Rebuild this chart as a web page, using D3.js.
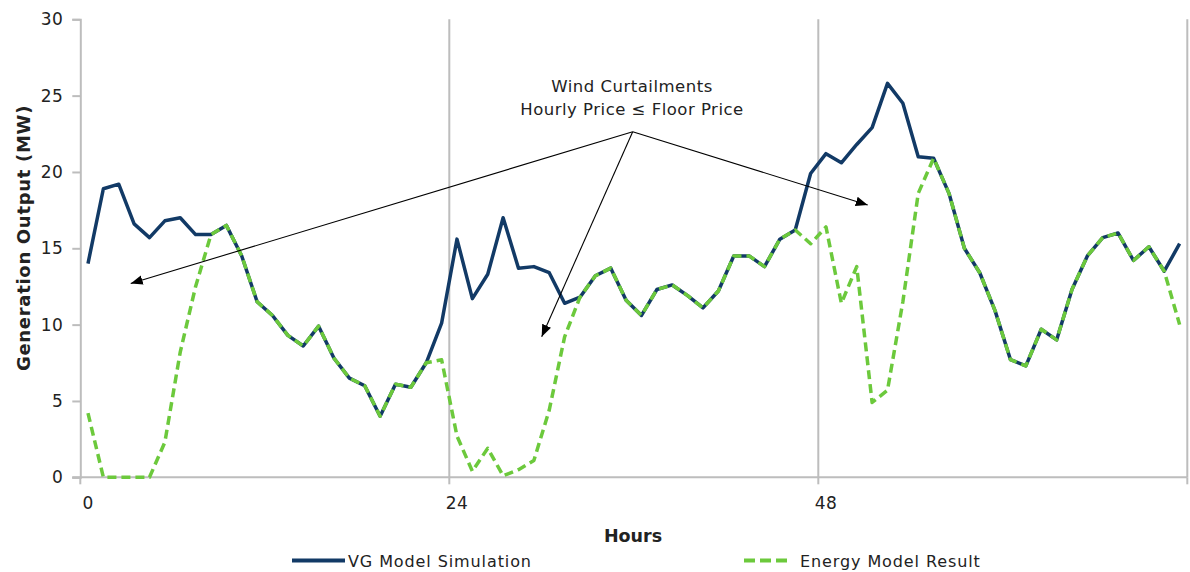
<!DOCTYPE html>
<html>
<head>
<meta charset="utf-8">
<script src="https://cdn.jsdelivr.net/npm/d3@7/dist/d3.min.js"></script>
<style>
  body { margin: 0; background: #fff; }
  svg { display: block; }
  text { font-family: "DejaVu Sans", Verdana, sans-serif; fill: #222; }
</style>
</head>
<body>
<svg id="chart" width="1190" height="572"></svg>
<script>
// ---- data ----
const hours = [0,1,2,3,4,5,6,7,8,9,10,11,12,13,14,15,16,17,18,19,20,21,22,23,
  24,25,26,27,28,29,30,31,32,33,34,35,36,37,38,39,40,41,42,43,44,45,46,47,
  48,49,50,51,52,53,54,55,56,57,58,59,60,61,62,63,64,65,66,67,68,69,70,71];
const hourLabels = [0, 24, 48];
const vgModel = [14.0,18.9,19.2,16.6,15.7,16.8,17.0,15.9,15.9,16.5,
  14.5,11.5,10.6,9.3,8.6,9.9,7.8,6.5,6.0,4.0,
  6.1,5.9,7.5,10.1,15.6,11.7,13.3,17.0,13.7,13.8,
  13.4,11.4,11.8,13.2,13.7,11.6,10.6,12.3,12.6,11.9,
  11.1,12.2,14.5,14.5,13.8,15.6,16.2,19.9,21.2,20.6,
  21.8,22.9,25.8,24.5,21.0,20.9,18.6,15.0,13.4,10.9,
  7.7,7.3,9.7,9.0,12.3,14.5,15.7,16.0,14.2,15.1,
  13.5,15.3];
const energyModel = [4.2,0,0,0,0,2.3,8.2,12.5,15.9,16.5,
  14.5,11.5,10.6,9.3,8.6,9.9,7.8,6.5,6.0,4.0,
  6.1,5.9,7.5,7.7,2.7,0.4,1.9,0.1,0.5,1.1,
  4.4,9.2,11.8,13.2,13.7,11.6,10.6,12.3,12.6,11.9,
  11.1,12.2,14.5,14.5,13.8,15.6,16.2,15.3,16.4,11.4,
  13.8,4.9,5.7,11.5,18.6,20.9,18.6,15.0,13.4,10.9,
  7.7,7.3,9.7,9.0,12.3,14.5,15.7,16.0,14.2,15.1,
  13.5,10.0];
const yTicks = [0,5,10,15,20,25,30];
const seriesNames = ["VG Model Simulation", "Energy Model Result"];
const annotationLines = ["Wind Curtailments", "Hourly Price \u2264 Floor Price"];

// ---- layout ----
const svg = d3.select("#chart");
const pLeft = 80.3, pRight = 1187.3, pTop = 19.3, pBottom = 477.3;
const blue = "#123a66", green = "#6cc93c", grid = "#bdbdbd";

const x = d3.scaleBand().domain(hours).range([pLeft, pRight]).padding(0);
const bw = x.bandwidth();
const cx = h => x(h) + bw / 2;
const y = d3.scaleLinear().domain([0, 30]).range([pBottom, pTop]);

// vertical gridlines at category boundaries every 24 hours
const boundaries = [24, 48];
svg.append("g").selectAll("line").data(boundaries).join("line")
  .attr("x1", d => x(d)).attr("x2", d => x(d))
  .attr("y1", pTop).attr("y2", pBottom)
  .attr("stroke", grid).attr("stroke-width", 2);
svg.append("line").attr("x1", pRight).attr("x2", pRight)
  .attr("y1", pTop).attr("y2", pBottom)
  .attr("stroke", grid).attr("stroke-width", 2);

// y axis
const yAxis = svg.append("g").attr("transform", `translate(${pLeft},0)`)
  .call(d3.axisLeft(y).tickValues(yTicks).tickSize(8).tickPadding(9));
yAxis.select(".domain").attr("stroke", grid).attr("stroke-width", 2);
yAxis.selectAll(".tick line").attr("stroke", grid).attr("stroke-width", 2);
yAxis.selectAll(".tick text").style("font-size", "17px").attr("fill", "#333")
  .style("letter-spacing", "0.4px")
  .style("font-family", "DejaVu Sans, sans-serif");

// x axis
const xAxis = svg.append("g").attr("transform", `translate(0,${pBottom})`)
  .call(d3.axisBottom(x).tickValues(hourLabels).tickSize(0).tickPadding(20));
xAxis.select(".domain").remove();
xAxis.selectAll(".tick text").style("font-size", "17px").attr("fill", "#333")
  .style("letter-spacing", "0.4px")
  .style("font-family", "DejaVu Sans, sans-serif");
svg.append("line").attr("x1", pLeft - 8).attr("x2", pRight)
  .attr("y1", pBottom).attr("y2", pBottom)
  .attr("stroke", grid).attr("stroke-width", 2);
svg.append("g").selectAll("line").data([0, 24, 48]).join("line")
  .attr("x1", d => x(d)).attr("x2", d => x(d))
  .attr("y1", pBottom).attr("y2", pBottom + 7)
  .attr("stroke", grid).attr("stroke-width", 2);
svg.append("line").attr("x1", pRight).attr("x2", pRight)
  .attr("y1", pBottom).attr("y2", pBottom + 7)
  .attr("stroke", grid).attr("stroke-width", 2);

// axis titles
svg.append("text").attr("x", 633).attr("y", 542)
  .attr("text-anchor", "middle").style("font-size", "17.5px").style("font-weight", "bold")
  .text("Hours");
svg.append("text").attr("transform", `translate(30,238) rotate(-90)`)
  .attr("text-anchor", "middle").style("font-size", "18px").style("font-weight", "bold")
  .style("letter-spacing", "0.7px")
  .text("Generation Output (MW)");

// lines
const line = d3.line().x((d, i) => cx(hours[i])).y(d => y(d));
svg.append("path").datum(vgModel).attr("d", line)
  .attr("fill", "none").attr("stroke", blue).attr("stroke-width", 3.5)
  .attr("stroke-linejoin", "round");
svg.append("path").datum(energyModel).attr("d", line)
  .attr("fill", "none").attr("stroke", green).attr("stroke-width", 3.5)
  .attr("stroke-dasharray", "9,5").attr("stroke-linejoin", "round");

// annotation
svg.append("defs").append("marker").attr("id", "ah")
  .attr("viewBox", "0 0 10 10").attr("refX", 10).attr("refY", 5)
  .attr("markerWidth", 12).attr("markerHeight", 12).attr("markerUnits", "userSpaceOnUse")
  .attr("orient", "auto")
  .append("path").attr("d", "M0,1 L10,5 L0,9 Z").attr("fill", "#000");
const origin = [632.7, 131.7];
const targets = [[130.7, 283.5], [541.7, 336.7], [867.7, 205]];
svg.append("g").selectAll("line").data(targets).join("line")
  .attr("x1", origin[0]).attr("y1", origin[1])
  .attr("x2", d => d[0]).attr("y2", d => d[1])
  .attr("stroke", "#000").attr("stroke-width", 1.1)
  .attr("marker-end", "url(#ah)");
svg.append("g").selectAll("text").data(annotationLines).join("text")
  .attr("x", 632).attr("y", (d, i) => 91.5 + i * 23.5)
  .attr("text-anchor", "middle").style("font-size", "16.5px")
  .style("letter-spacing", "0.5px")
  .text(d => d);

// legend
const legend = svg.append("g");
const legendItems = [
  { name: seriesNames[0], color: blue, dash: null, x: 292, len: 53, gap: 56 },
  { name: seriesNames[1], color: green, dash: "11,5", x: 744, len: 47, gap: 56 }
];
legendItems.forEach(it => {
  legend.append("line").attr("x1", it.x).attr("x2", it.x + it.len)
    .attr("y1", 560.5).attr("y2", 560.5)
    .attr("stroke", it.color).attr("stroke-width", 4)
    .attr("stroke-dasharray", it.dash);
  legend.append("text").attr("x", it.x + it.gap).attr("y", 566.5)
    .style("font-size", "16px").style("letter-spacing", "0.9px").text(it.name);
});
</script>
</body>
</html>
